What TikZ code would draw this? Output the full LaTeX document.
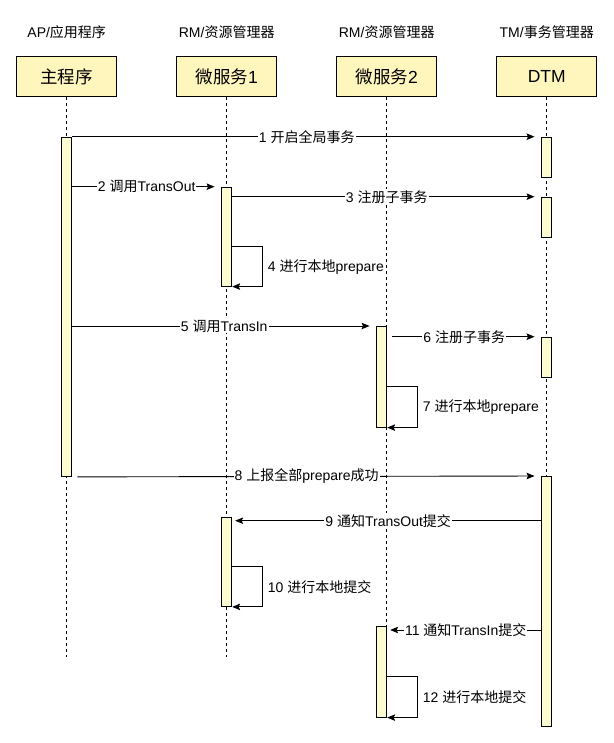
\documentclass[tikz,border=0pt]{standalone}
\usepackage{fontspec}
\setmainfont{Liberation Sans}
\newfontfamily\cjk{Noto Sans CJK SC}
\usepackage{tikz}
\usetikzlibrary{arrows.meta, positioning, calc}
\definecolor{headfill}{HTML}{FFF6BE}
\definecolor{barfill}{HTML}{FDFBD0}

\begin{document}
\begin{tikzpicture}[
    x=1pt, y=-1pt,
    >={Stealth[length=8pt, width=6.5pt, inset=1.5pt]},
    every node/.style={font=\fontsize{14}{16}\selectfont},
    actor/.style={draw, fill=headfill, line width=1pt, minimum width=100pt, minimum height=40pt, inner sep=0pt, font=\fontsize{17.5}{20}\selectfont},
    bar/.style={draw, fill=barfill, line width=0.9pt, minimum width=10pt, inner sep=0pt, anchor=north},
    lifeline/.style={line width=0.8pt, dash pattern=on 3pt off 3pt},
    msg/.style={->, line width=0.9pt},
    lbl/.style={fill=white, inner sep=1pt},
    selflbl/.style={right=2pt}
]
    \useasboundingbox (0,0) rectangle (613,743);

    % participants and their roles
    \node (mainrole) at (66.7,32) {AP/{\cjk 应用程序}};
    \node (ms1role) at (226.7,32) {RM/{\cjk 资源管理器}};
    \node (ms2role) at (386.7,32) {RM/{\cjk 资源管理器}};
    \node (dtmrole) at (546.7,32) {TM/{\cjk 事务管理器}};
    \node[actor] (main) at (66.7,76.7) {\cjk 主程序};
    \node[actor] (ms1) at (226.7,76.7) {{\cjk 微服务}1};
    \node[actor] (ms2) at (386.7,76.7) {{\cjk 微服务}2};
    \node[actor] (dtm) at (546.7,76.7) {DTM};

    % lifelines
    \coordinate (mainend) at (66.7,656.7);
    \coordinate (ms1end) at (226.7,656.7);
    \coordinate (ms2end) at (386.7,626);
    \coordinate (dtmend) at (546.7,476);
    \draw[lifeline] (main.south) -- (mainend);
    \draw[lifeline] (ms1.south) -- (ms1end);
    \draw[lifeline] (ms2.south) -- (ms2end);
    \draw[lifeline] (dtm.south) -- (dtmend);

    % activation bars
    \node[bar, minimum height=339.3pt] (mainbar) at (66.7,136.7) {};
    \node[bar, minimum height=40pt] (dtmbar1) at (546.7,136.7) {};
    \node[bar, minimum height=40pt] (dtmbar2) at (546.7,196.7) {};
    \node[bar, minimum height=40pt] (dtmbar3) at (546.7,336.7) {};
    \node[bar, minimum height=250pt] (dtmbar4) at (546.7,476) {};
    \node[bar, minimum height=99pt] (ms1bar1) at (226.7,186.7) {};
    \node[bar, minimum height=89.3pt] (ms1bar2) at (226.7,516.7) {};
    \node[bar, minimum height=100.7pt] (ms2bar1) at (381.7,326) {};
    \node[bar, minimum height=90.7pt] (ms2bar2) at (381.7,626) {};

    % prepare phase
    \draw[msg, shorten >=6.7pt] (mainbar.north east) -- node[lbl] {1 {\cjk 开启全局事务}} (dtmbar1.north west);
    \draw[msg, shorten >=6.7pt] (mainbar.east |- ms1bar1.north) -- node[lbl] {2 {\cjk 调用}TransOut} (ms1bar1.north west);
    \draw[msg, shorten >=6.7pt] (ms1bar1.east |- dtmbar2.north) -- node[lbl] {3 {\cjk 注册子事务}} (dtmbar2.north west);
    \draw[msg] ([yshift=-60pt]ms1bar1.north east) -- ++(30,0) |- node[pos=0.25, selflbl] {4 {\cjk 进行本地}prepare} (ms1bar1.south east);
    \draw[msg, shorten >=6.7pt] (mainbar.east |- ms2bar1.north) -- node[lbl] {5 {\cjk 调用}TransIn} (ms2bar1.north west);
    \draw[msg, shorten <=5pt, shorten >=6.7pt] (ms2bar1.east |- dtmbar3.north) -- node[lbl] {6 {\cjk 注册子事务}} (dtmbar3.north west);
    \draw[msg] ([yshift=-60pt]ms2bar1.north east) -- ++(30,0) |- node[pos=0.25, selflbl] {7 {\cjk 进行本地}prepare} (ms2bar1.south east);

    % commit phase
    \draw[msg, shorten <=5.3pt, shorten >=6.7pt] (mainbar.south east) -- node[lbl] {8 {\cjk 上报全部}prepare{\cjk 成功}} (dtmbar4.north west);
    \coordinate (in9) at ([xshift=3pt, yshift=-4pt]ms1bar2.north east);
    \draw[msg] (dtmbar4.west |- in9) -- node[lbl] {9 {\cjk 通知}TransOut{\cjk 提交}} (in9);
    \draw[msg] ([yshift=-50pt]ms1bar2.north east) -- ++(30,0) |- node[pos=0.25, selflbl] {10 {\cjk 进行本地提交}} (ms1bar2.south east);
    \coordinate (in11) at ([xshift=3pt, yshift=-4pt]ms2bar2.north east);
    \draw[msg] (dtmbar4.west |- in11) -- node[lbl] {11 {\cjk 通知}TransIn{\cjk 提交}} (in11);
    \draw[msg] ([yshift=-50pt]ms2bar2.north east) -- ++(30,0) |- node[pos=0.25, selflbl] {12 {\cjk 进行本地提交}} (ms2bar2.south east);
\end{tikzpicture}
\end{document}
